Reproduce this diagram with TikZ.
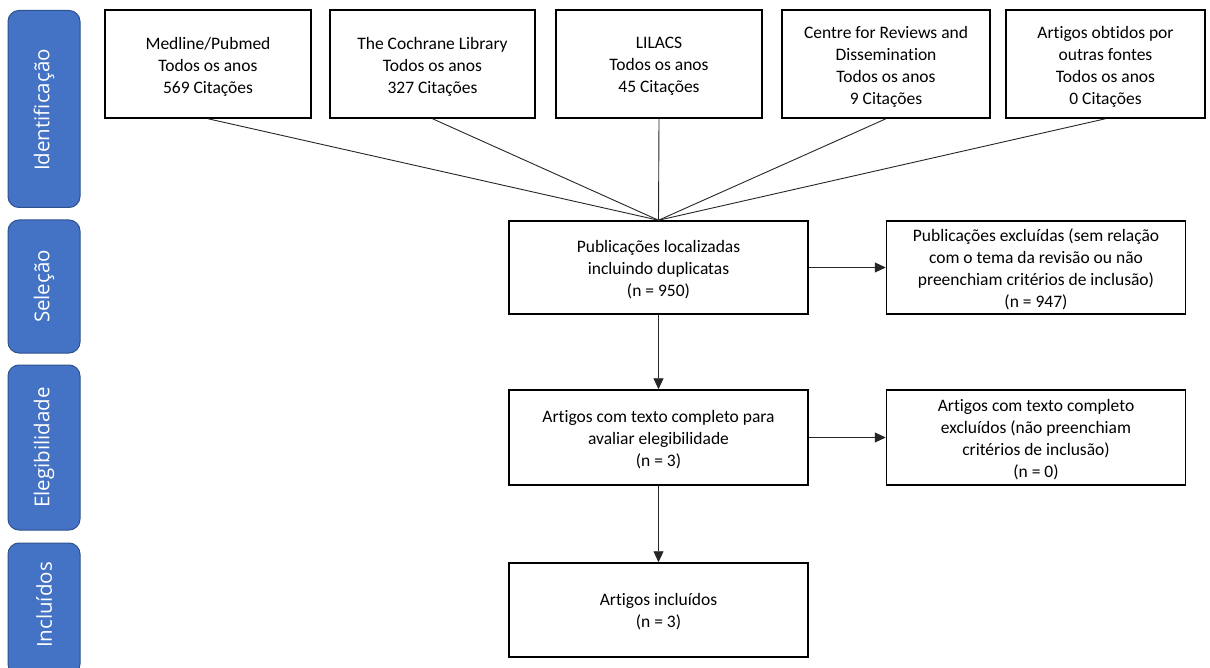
\documentclass[tikz,border=0pt]{standalone}
\usepackage{fontspec}
\setmainfont{Carlito}[Ligatures=NoCommon]
\newfontfamily\sidefont{Open Sans}
\usetikzlibrary{arrows.meta}
\definecolor{sidebar}{HTML}{4472C4}
\definecolor{sideedge}{HTML}{2F528F}
\begin{document}
\begin{tikzpicture}[x=1pt,y=-1pt,
  box/.style={draw=black, line width=1.5pt, fill=white, inner sep=0pt},
  boxtext/.style={align=center, font=\fontsize{17.5}{22}\selectfont, inner sep=0pt},
  side/.style={draw=sideedge, line width=1pt, fill=sidebar, rounded corners=11pt, inner sep=0pt},
  sidetext/.style={text=white, rotate=90, font=\sidefont\fontsize{20.5}{24}\selectfont, inner sep=0pt},
  conn/.style={draw=black!85, line width=0.9pt},
  arr/.style={conn, -{Triangle[length=11pt,width=10pt]}}]
\useasboundingbox (0,0) rectangle (1210,668);
\clip (0,0) rectangle (1210,668);
\fill[white] (0,0) rectangle (1210,668);

% phase bars
\node[side, minimum width=72pt, minimum height=197pt] (p1) at (44,109) {};
\node[sidetext] (t1) at (44,110) {Identificação};
\node[side, minimum width=72pt, minimum height=133pt] (p2) at (44,286.5) {};
\node[sidetext] (t2) at (44,286.5) {Seleção};
\node[side, minimum width=72pt, minimum height=165pt] (p3) at (44,447.5) {};
\node[sidetext] (t3) at (44,447.5) {Elegibilidade};
\node[side, minimum width=72pt, minimum height=132pt] (p4) at (44,609) {};
\node[sidetext] (t4) at (44,605) {Incluídos};

% sources
\node[box, minimum width=206pt, minimum height=108pt] (s1) at (208,64) {};
\node[boxtext] (s1t) at ([yshift=-2.5pt]s1.center) {Medline/Pubmed\\Todos os anos\\569 Citações};
\node[box, minimum width=205pt, minimum height=108pt] (s2) at (432.5,64) {};
\node[boxtext] (s2t) at ([yshift=-2.5pt]s2.center) {The Cochrane Library\\Todos os anos\\327 Citações};
\node[box, minimum width=206pt, minimum height=108pt] (s3) at (659,64) {};
\node[boxtext] (s3t) at ([yshift=-2.5pt]s3.center) {LILACS\\Todos os anos\\45 Citações};
\node[box, minimum width=208pt, minimum height=108pt] (s4) at (886,64) {};
\node[boxtext] (s4t) at ([yshift=-2.5pt]s4.center) {Centre for Reviews and\\Dissemination\\Todos os anos\\9 Citações};
\node[box, minimum width=199pt, minimum height=108pt] (s5) at (1105.5,64) {};
\node[boxtext] (s5t) at ([yshift=-2.5pt]s5.center) {Artigos obtidos por\\outras fontes\\Todos os anos\\0 Citações};

% flow
\node[box, minimum width=299pt, minimum height=93pt] (a) at (658.5,267.5) {};
\node[boxtext] (at) at ([yshift=-2pt]a.center) {Publicações localizadas\\incluindo duplicatas\\(n = 950)};
\node[box, minimum width=299pt, minimum height=93pt] (b) at (1036,267.5) {};
\node[boxtext] (bt) at ([yshift=-2pt]b.center) {Publicações excluídas (sem relação\\com o tema da revisão ou não\\preenchiam critérios de inclusão)\\(n = 947)};
\node[box, minimum width=299pt, minimum height=95pt] (c) at (658.5,437.5) {};
\node[boxtext] (ct) at ([yshift=-2pt]c.center) {Artigos com texto completo para\\avaliar elegibilidade\\(n = 3)};
\node[box, minimum width=299pt, minimum height=95pt] (d) at (1036,437.5) {};
\node[boxtext] (dt) at ([yshift=-2pt]d.center) {Artigos com texto completo\\excluídos (não preenchiam\\critérios de inclusão)\\(n = 0)};
\node[box, minimum width=299pt, minimum height=94pt] (e) at (658.5,610) {};
\node[boxtext] (et) at ([yshift=-2pt]e.center) {Artigos incluídos\\(n = 3)};

\foreach \s in {s1,s2,s3,s4,s5} \draw[conn] (\s.south) -- (a.north);
\draw[arr] (a.east) -- (b.west);
\draw[arr] (a.south) -- (c.north);
\draw[arr] (c.east) -- (d.west);
\draw[arr] (c.south) -- (e.north);
\end{tikzpicture}
\end{document}
